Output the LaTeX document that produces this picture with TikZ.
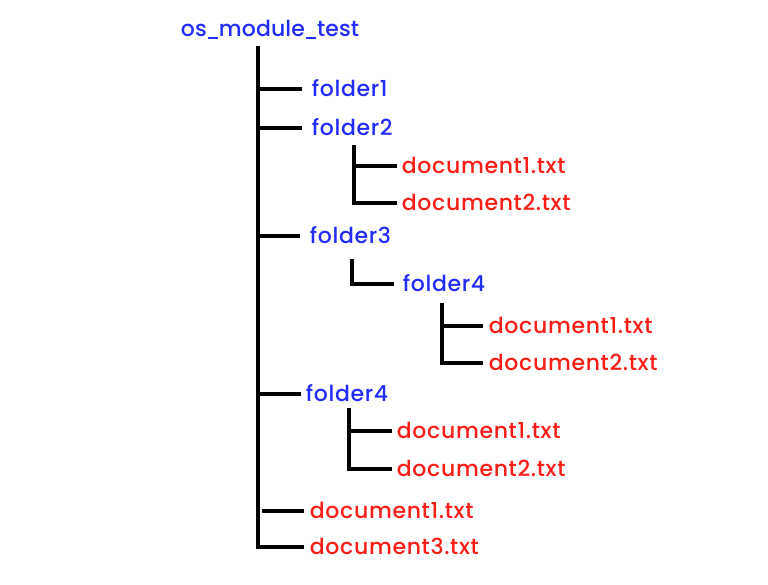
\documentclass[tikz,border=0pt]{standalone}
\usepackage{fontspec}
\setmainfont{Poppins Medium}[LetterSpace=3]
\definecolor{fblue}{RGB}{35,45,250}
\definecolor{fred}{RGB}{250,30,25}
\newcommand{\myus}{\kern0.8pt\rule[-1.6pt]{7.5pt}{1.2pt}\kern0.8pt}
\begin{document}
\begin{tikzpicture}[x=0.75pt,y=-0.75pt,
  item/.style={anchor=west,inner xsep=3.5pt,inner ysep=0pt,text height=11.5pt,text depth=0pt,font=\fontsize{16.5}{18}\selectfont},
  dir/.style={item,text=fblue},
  file/.style={item,text=fred},
  tree/.style={line width=3pt,black,line cap=butt,line join=miter}]
\useasboundingbox[fill=white] (0,0) rectangle (768,585);
% nodes
\node[dir] (root) at (176,29) {\addfontfeature{LetterSpace=0.5}os\myus module\myus test};
\node[dir] (f1) at (307,89) {folder1};
\node[dir] (f2) at (307,128) {folder2};
\node[file] (f2d1) at (397,166) {document1.txt};
\node[file] (f2d2) at (397,203) {document2.txt};
\node[dir] (f3) at (305,236) {folder3};
\node[dir] (f3f4) at (398,284) {folder4};
\node[file] (f3f4d1) at (484,326) {document1.txt};
\node[file] (f3f4d2) at (484,363) {document2.txt};
\node[dir] (f4) at (301,394) {folder4};
\node[file] (f4d1) at (392,431) {document1.txt};
\node[file] (f4d2) at (392,469) {document2.txt};
\node[file] (d1) at (305,511) {document1.txt};
\node[file] (d3) at (305,547) {document3.txt};
% trunk coordinates
\coordinate (t0) at (258,46);
\coordinate (t2) at (354,145);
\coordinate (t3) at (352,259);
\coordinate (t34) at (442,303);
\coordinate (t4) at (349,408);
% main trunk
\draw[tree] (t0) |- ([xshift=-0.75pt]d3.west);
\draw[tree] (t0 |- f1.west) -- ([xshift=-3.75pt]f1.west);
\draw[tree] (t0 |- f2.west) -- ([xshift=-3.75pt]f2.west);
\draw[tree] (t0 |- f3.west) -- ([xshift=-3.75pt]f3.west);
\draw[tree] (t0 |- f4.west) -- (f4.west);
\draw[tree] ([xshift=3pt]t0 |- d1.west) -- ([xshift=-0.75pt]d1.west);
% folder2
\draw[tree] (t2) |- (f2d2.west);
\draw[tree] (t2 |- f2d1.west) -- (f2d1.west);
% folder3
\draw[tree] (t3) |- ([xshift=-3pt]f3f4.west);
\draw[tree] (t34) |- ([xshift=-0.75pt]f3f4d2.west);
\draw[tree] (t34 |- f3f4d1.west) -- ([xshift=-0.75pt]f3f4d1.west);
% folder4
\draw[tree] (t4) |- (f4d2.west);
\draw[tree] (t4 |- f4d1.west) -- (f4d1.west);
\end{tikzpicture}
\end{document}
